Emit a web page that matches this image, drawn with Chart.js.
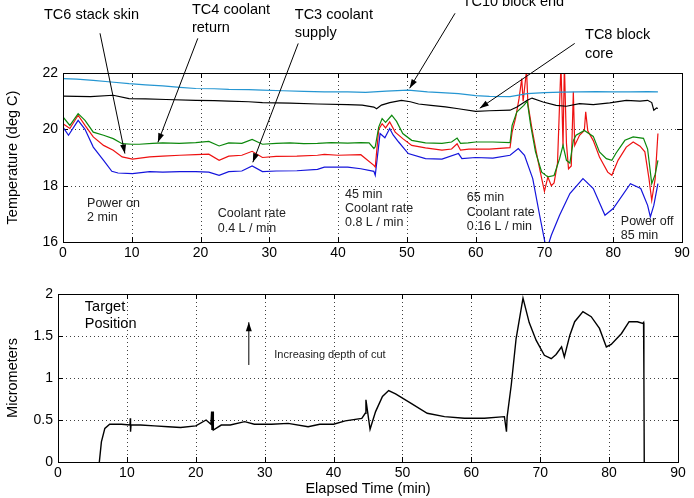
<!DOCTYPE html>
<html>
<head>
<meta charset="utf-8">
<script src="https://cdn.jsdelivr.net/npm/chart.js@4.4.1/dist/chart.umd.min.js"></script>
<style>
  body { margin: 0; background: #fff; }
  .box { position: absolute; left: 0; }
</style>
</head>
<body>
<div class="box" style="top:0"><canvas id="temps" width="694" height="262"></canvas></div>
<div class="box" style="top:262px"><canvas id="depth" width="694" height="236"></canvas></div>
<script>
// [elapsed min, deg C]
var tc10 = [[0,21.8],[2,21.78],[4.4,21.74],[7,21.68],[9.6,21.62],[12,21.58],[14.5,21.54],[17,21.49],[19.3,21.45],[22,21.44],[24.1,21.42],[27,21.41],[29,21.39],[32,21.37],[35,21.35],[38,21.33],[41.4,21.33],[44,21.31],[47,21.36],[50.2,21.39],[53,21.33],[55,21.3],[57.5,21.27],[60,21.2],[62,21.17],[65,21.16],[67.5,21.27],[70,21.3],[72.5,21.32],[75,21.33],[77.5,21.34],[80,21.33],[82.5,21.33],[85,21.34],[86.5,21.33]];
var tc8 = [[0,21.18],[2,21.17],[4,21.16],[7.3,21.21],[9.6,21.09],[12,21.08],[15,21.06],[19.3,21.03],[22,21.02],[24.1,21.0],[27,20.98],[29,20.95],[33,20.93],[37,20.9],[41.4,20.88],[43.5,20.86],[45.2,20.79],[45.6,20.73],[46.3,20.86],[47.5,20.95],[49.2,21.03],[50.5,20.98],[51.7,20.9],[53.5,20.85],[55.6,20.8],[57.5,20.73],[60,20.64],[62,20.66],[65,20.68],[66,20.79],[67.5,21.03],[68.2,21.11],[69.8,20.97],[71.7,20.85],[73.2,20.82],[75.1,20.91],[77.1,20.88],[79.5,20.94],[81.9,21.03],[83.9,21.0],[85,21.03],[85.6,20.95],[85.9,20.68],[86.3,20.76],[86.5,20.74]];
var tc4 = [[0,20.44],[1,20.14],[2.2,20.56],[3.2,20.32],[4.4,19.9],[5.9,19.79],[7.3,19.67],[8.6,19.49],[10,19.47],[11.1,19.47],[13,19.5],[14.5,19.52],[16.9,19.5],[19.3,19.53],[21.2,19.57],[22.7,19.41],[24.1,19.52],[26,19.5],[27.5,19.64],[29,19.47],[31,19.5],[33,19.52],[35,19.49],[37,19.5],[39,19.53],[41.4,19.51],[43.3,19.53],[44.5,19.52],[45.2,19.32],[45.4,19.38],[45.9,20.08],[46.4,20.38],[46.9,20.25],[47.8,20.5],[48.5,20.28],[49.4,19.85],[50.7,19.61],[52.7,19.52],[55.1,19.5],[56.5,19.55],[57.3,19.69],[57.8,19.5],[58.9,19.52],[60,19.55],[62.5,19.55],[65,19.53],[65.3,20.14],[66,20.62],[67,20.85],[67.5,21.0],[68,20.14],[68.7,19.2],[69.6,18.48],[70.5,18.31],[71.4,18.36],[72.2,18.96],[72.7,19.43],[73.2,18.9],[73.7,18.8],[74.2,19.6],[74.6,19.79],[75.8,19.96],[77.1,19.75],[78,19.2],[79,18.96],[79.8,18.9],[80.4,19.15],[81.7,19.61],[82.9,19.73],[84.4,19.68],[85,19.3],[85.6,18.07],[86.1,18.4],[86.5,18.9]];
var tc6 = [[0,20.2],[1,20.03],[2.2,20.5],[3.2,20.14],[4.4,19.73],[5.9,19.43],[7.3,19.26],[8.6,19.02],[10.1,18.94],[12.6,19.02],[14.5,19.05],[17,19.08],[19.3,19.1],[21.2,19.12],[22.7,18.9],[24.1,19.05],[26,19.08],[27.5,19.22],[29,19.0],[31,19.04],[34,19.05],[37,19.08],[38,19.11],[40,19.08],[43.3,19.1],[45.2,18.72],[45.4,18.66],[45.9,20.0],[46.4,20.2],[46.9,20.05],[47.5,20.26],[48.3,19.9],[49.4,19.67],[50.7,19.43],[52.7,19.34],[55.1,19.26],[56.5,19.3],[57.3,19.49],[57.8,19.26],[59,19.3],[62,19.3],[65,19.35],[65.3,19.9],[65.8,20.4],[66.3,21.08],[66.7,21.8],[66.9,21.0],[67.4,22.1],[67.6,20.9],[68.2,20.0],[69,18.96],[69.6,18.25],[70,17.8],[70.5,18.31],[71,18.0],[71.4,18.1],[71.9,18.8],[72.4,22.3],[72.7,19.4],[72.9,22.3],[73.2,19.5],[73.5,18.6],[73.9,18.7],[74.2,21.33],[74.4,19.43],[75.1,19.79],[75.8,19.96],[76,20.62],[76.3,19.95],[77.1,19.6],[78,19.02],[79.2,18.48],[79.8,18.37],[80.7,18.9],[81.9,19.37],[82.9,19.55],[83.9,19.4],[84.6,19.2],[85.2,18.25],[85.6,17.48],[86.1,18.25],[86.5,19.85]];
var tc3 = [[0,20.08],[0.8,19.79],[2.2,20.32],[3.2,20.0],[4.4,19.37],[5.9,18.9],[7.1,18.51],[8,18.45],[10.1,18.43],[12.6,18.5],[14.5,18.48],[17,18.5],[19.3,18.5],[21.2,18.48],[22.7,18.37],[24.1,18.5],[26,18.52],[27.5,18.7],[29,18.5],[31,18.52],[34,18.53],[37,18.58],[38,18.66],[41.4,18.66],[43.3,18.6],[45.2,18.51],[45.4,18.37],[46.1,19.85],[46.8,19.7],[47.5,20.03],[48,19.8],[48.8,19.55],[50.2,19.14],[52.7,18.96],[55.1,18.94],[57.5,19.14],[58,18.96],[60,19.0],[62.5,18.98],[65,19.08],[66.2,19.32],[67.1,19.08],[68.3,18.25],[69.3,16.95],[70.3,15.7],[71,16.24],[72.2,16.95],[73.7,17.72],[75.6,18.25],[77.1,17.9],[78.8,16.95],[80,17.19],[82.5,18.07],[84,17.9],[85,17.3],[85.4,16.89],[85.9,17.3],[86.5,18.07]];
// [elapsed min, micrometers]
var position = [[6.0,0],[6.3,0.24],[6.8,0.4],[7.5,0.45],[9.2,0.45],[10.45,0.44],[10.5,0.52],[10.53,0.36],[10.6,0.44],[12,0.44],[14,0.43],[16,0.42],[17.8,0.41],[20,0.43],[21.5,0.5],[22.2,0.45],[22.3,0.6],[22.35,0.38],[22.5,0.6],[22.55,0.38],[23.7,0.44],[25,0.44],[27.1,0.48],[28.5,0.45],[31,0.45],[33.4,0.46],[36.3,0.42],[38,0.45],[40,0.45],[41.7,0.49],[44.1,0.52],[44.6,0.58],[44.7,0.74],[45.3,0.39],[46.1,0.6],[47.1,0.78],[48,0.85],[49,0.81],[51.2,0.7],[53.6,0.58],[56.1,0.54],[59,0.52],[61.9,0.52],[64.8,0.54],[65.1,0.36],[65.2,0.54],[65.8,0.92],[66.5,1.47],[67.5,1.95],[68.4,1.66],[69.4,1.45],[70.6,1.27],[71.6,1.23],[72.3,1.28],[73.1,1.37],[73.5,1.25],[74.3,1.51],[75,1.67],[76.2,1.79],[77.4,1.73],[78.6,1.59],[79.6,1.37],[80.3,1.4],[81.8,1.53],[82.9,1.67],[84.1,1.67],[84.9,1.65],[85.0,1.66],[85.05,1.05],[85.1,0]];

var timeTicks = [0, 90, 10];      // min, max, step
var tempTicks = [16, 22, 2];
var microTicks = [0, 2, 0.5];

// callouts, placed in data units of each plot
var topNotes = [
    ['TC6 stack skin', -2.76, 24.05, 'big'],
    ['TC4 coolant', 18.75, 24.23, 'big'], ['return', 18.75, 23.58, 'big'],
    ['TC3 coolant', 33.7, 24.05, 'big'], ['supply', 33.7, 23.41, 'big'],
    ['TC10 block end', 58.1, 24.52, 'big'],
    ['TC8 block', 75.9, 23.34, 'big'], ['core', 75.9, 22.69, 'big'],
    ['Power on', 3.5, 17.37], ['2 min', 3.5, 16.87],
    ['Coolant rate', 22.5, 17.02], ['0.4 L / min', 22.5, 16.49],
    ['45 min', 41, 17.69], ['Coolant rate', 41, 17.2], ['0.8 L / min', 41, 16.7],
    ['65 min', 58.7, 17.58], ['Coolant rate', 58.7, 17.05], ['0.16 L / min', 58.7, 16.56],
    ['Power off', 81.1, 16.74], ['85 min', 81.1, 16.24]
];
var topArrows = [
    [5.38, 23.41, 9.0, 19.14],
    [19.6, 23.23, 13.8, 19.54],
    [34.2, 23.05, 27.6, 18.83],
    [57.0, 24.12, 50.4, 21.46],
    [74.4, 23.05, 60.6, 20.75]
];
var bottomNotes = [
    ['Target', 3.9, 1.84, 'big'], ['Position', 3.9, 1.64, 'big'],
    ['Increasing depth of cut', 31.4, 1.27, 'small']
];
var bottomArrows = [[27.7, 1.155, 27.7, 1.664]];

Chart.defaults.font.family = '"Liberation Sans", Arial, sans-serif';
Chart.defaults.color = '#000';

function toXY(list) {
    return list.map(function (p) { return { x: p[0], y: p[1] }; });
}

var notes = {
    id: 'notes',
    // dotted matlab style grid + inner tick marks
    beforeDatasetsDraw: function (chart) {
        var ctx = chart.ctx;
        var a = chart.chartArea;
        var xs = chart.scales.x, ys = chart.scales.y;
        ctx.save();
        ctx.strokeStyle = 'rgba(0,0,0,0.75)';
        ctx.lineWidth = 1;
        ctx.setLineDash([1, 3]);
        xs.ticks.forEach(function (t) {
            var px = Math.round(xs.getPixelForValue(t.value)) + 0.5;
            ctx.beginPath();
            ctx.moveTo(px, a.top);
            ctx.lineTo(px, a.bottom);
            ctx.stroke();
        });
        ys.ticks.forEach(function (t) {
            var py = Math.round(ys.getPixelForValue(t.value)) + 0.5;
            ctx.beginPath();
            ctx.moveTo(a.left, py);
            ctx.lineTo(a.right, py);
            ctx.stroke();
        });
        ctx.setLineDash([]);
        ctx.strokeStyle = '#000';
        xs.ticks.forEach(function (t) {
            var px = Math.round(xs.getPixelForValue(t.value)) + 0.5;
            ctx.beginPath();
            ctx.moveTo(px, a.bottom);
            ctx.lineTo(px, a.bottom - 5);
            ctx.moveTo(px, a.top);
            ctx.lineTo(px, a.top + 5);
            ctx.stroke();
        });
        ys.ticks.forEach(function (t) {
            var py = Math.round(ys.getPixelForValue(t.value)) + 0.5;
            ctx.beginPath();
            ctx.moveTo(a.left, py);
            ctx.lineTo(a.left + 5, py);
            ctx.moveTo(a.right, py);
            ctx.lineTo(a.right - 5, py);
            ctx.stroke();
        });
        ctx.restore();
    },
    afterDraw: function (chart, args, opts) {
        var ctx = chart.ctx;
        var a = chart.chartArea;
        var xs = chart.scales.x, ys = chart.scales.y;
        ctx.save();
        ctx.strokeStyle = '#000';
        ctx.lineWidth = 1;
        ctx.strokeRect(Math.round(a.left) + 0.5, Math.round(a.top) + 0.5,
            Math.round(a.right - a.left), Math.round(a.bottom - a.top));

        ctx.textBaseline = 'middle';
        ctx.textAlign = 'left';
        opts.texts.forEach(function (t) {
            if (t[3] == 'big') {
                ctx.font = '14.5px "Liberation Sans", Arial, sans-serif';
                ctx.fillStyle = '#000';
            } else if (t[3] == 'small') {
                ctx.font = '11px "Liberation Sans", Arial, sans-serif';
                ctx.fillStyle = '#222';
            } else {
                ctx.font = '12.5px "Liberation Sans", Arial, sans-serif';
                ctx.fillStyle = '#222';
            }
            ctx.fillText(t[0], xs.getPixelForValue(t[1]), ys.getPixelForValue(t[2]));
        });

        opts.arrows.forEach(function (r) {
            var x1 = xs.getPixelForValue(r[0]), y1 = ys.getPixelForValue(r[1]);
            var x2 = xs.getPixelForValue(r[2]), y2 = ys.getPixelForValue(r[3]);
            var ang = Math.atan2(y2 - y1, x2 - x1);
            ctx.beginPath();
            ctx.moveTo(x1, y1);
            ctx.lineTo(x2, y2);
            ctx.stroke();
            ctx.beginPath();
            ctx.moveTo(x2, y2);
            ctx.lineTo(x2 - 9 * Math.cos(ang) + 3 * Math.sin(ang), y2 - 9 * Math.sin(ang) - 3 * Math.cos(ang));
            ctx.lineTo(x2 - 9 * Math.cos(ang) - 3 * Math.sin(ang), y2 - 9 * Math.sin(ang) + 3 * Math.cos(ang));
            ctx.closePath();
            ctx.fillStyle = '#000';
            ctx.fill();
        });
        ctx.restore();
    }
};

function series(data, color, width) {
    return {
        data: toXY(data),
        borderColor: color,
        borderWidth: width,
        pointRadius: 0,
        tension: 0,
        fill: false
    };
}

function axes(xr, yr, yTitle, xTitle, yWidth, xHeight) {
    return {
        x: {
            type: 'linear', min: xr[0], max: xr[1],
            afterFit: function (s) { s.height = xHeight; },
            ticks: { stepSize: xr[2], padding: 3, font: { size: 14 } },
            grid: { display: false, drawTicks: false },
            border: { display: false },
            title: { display: !!xTitle, text: xTitle, font: { size: 14.5 }, padding: 0 }
        },
        y: {
            min: yr[0], max: yr[1],
            afterFit: function (s) { s.width = yWidth; },
            ticks: {
                stepSize: yr[2], padding: 5, font: { size: 14 },
                callback: function (v) { return String(v); }
            },
            grid: { display: false, drawTicks: false },
            border: { display: false },
            title: { display: true, text: yTitle, font: { size: 14.5 }, padding: { top: 4, bottom: 0 } }
        }
    };
}

new Chart(document.getElementById('temps'), {
    type: 'line',
    data: {
        datasets: [
            series(tc10, '#2596d2', 1.2),
            series(tc8, '#000000', 1.2),
            series(tc4, '#0c880c', 1.2),
            series(tc6, '#ee1111', 1.2),
            series(tc3, '#1414dc', 1.2)
        ]
    },
    options: {
        responsive: false,
        animation: false,
        layout: { padding: { top: 73, right: 12, left: 0, bottom: 0 } },
        scales: axes(timeTicks, tempTicks, 'Temperature (deg C)', '', 63, 20),
        plugins: {
            legend: { display: false },
            tooltip: { enabled: false },
            notes: { texts: topNotes, arrows: topArrows }
        }
    },
    plugins: [notes]
});

new Chart(document.getElementById('depth'), {
    type: 'line',
    data: {
        datasets: [series(position, '#000000', 1.4)]
    },
    options: {
        responsive: false,
        animation: false,
        layout: { padding: { top: 32, right: 16, left: 0, bottom: 0 } },
        scales: axes(timeTicks, microTicks, 'Micrometers', 'Elapsed Time (min)', 58, 36),
        plugins: {
            legend: { display: false },
            tooltip: { enabled: false },
            notes: { texts: bottomNotes, arrows: bottomArrows }
        }
    },
    plugins: [notes]
});
</script>
</body>
</html>
